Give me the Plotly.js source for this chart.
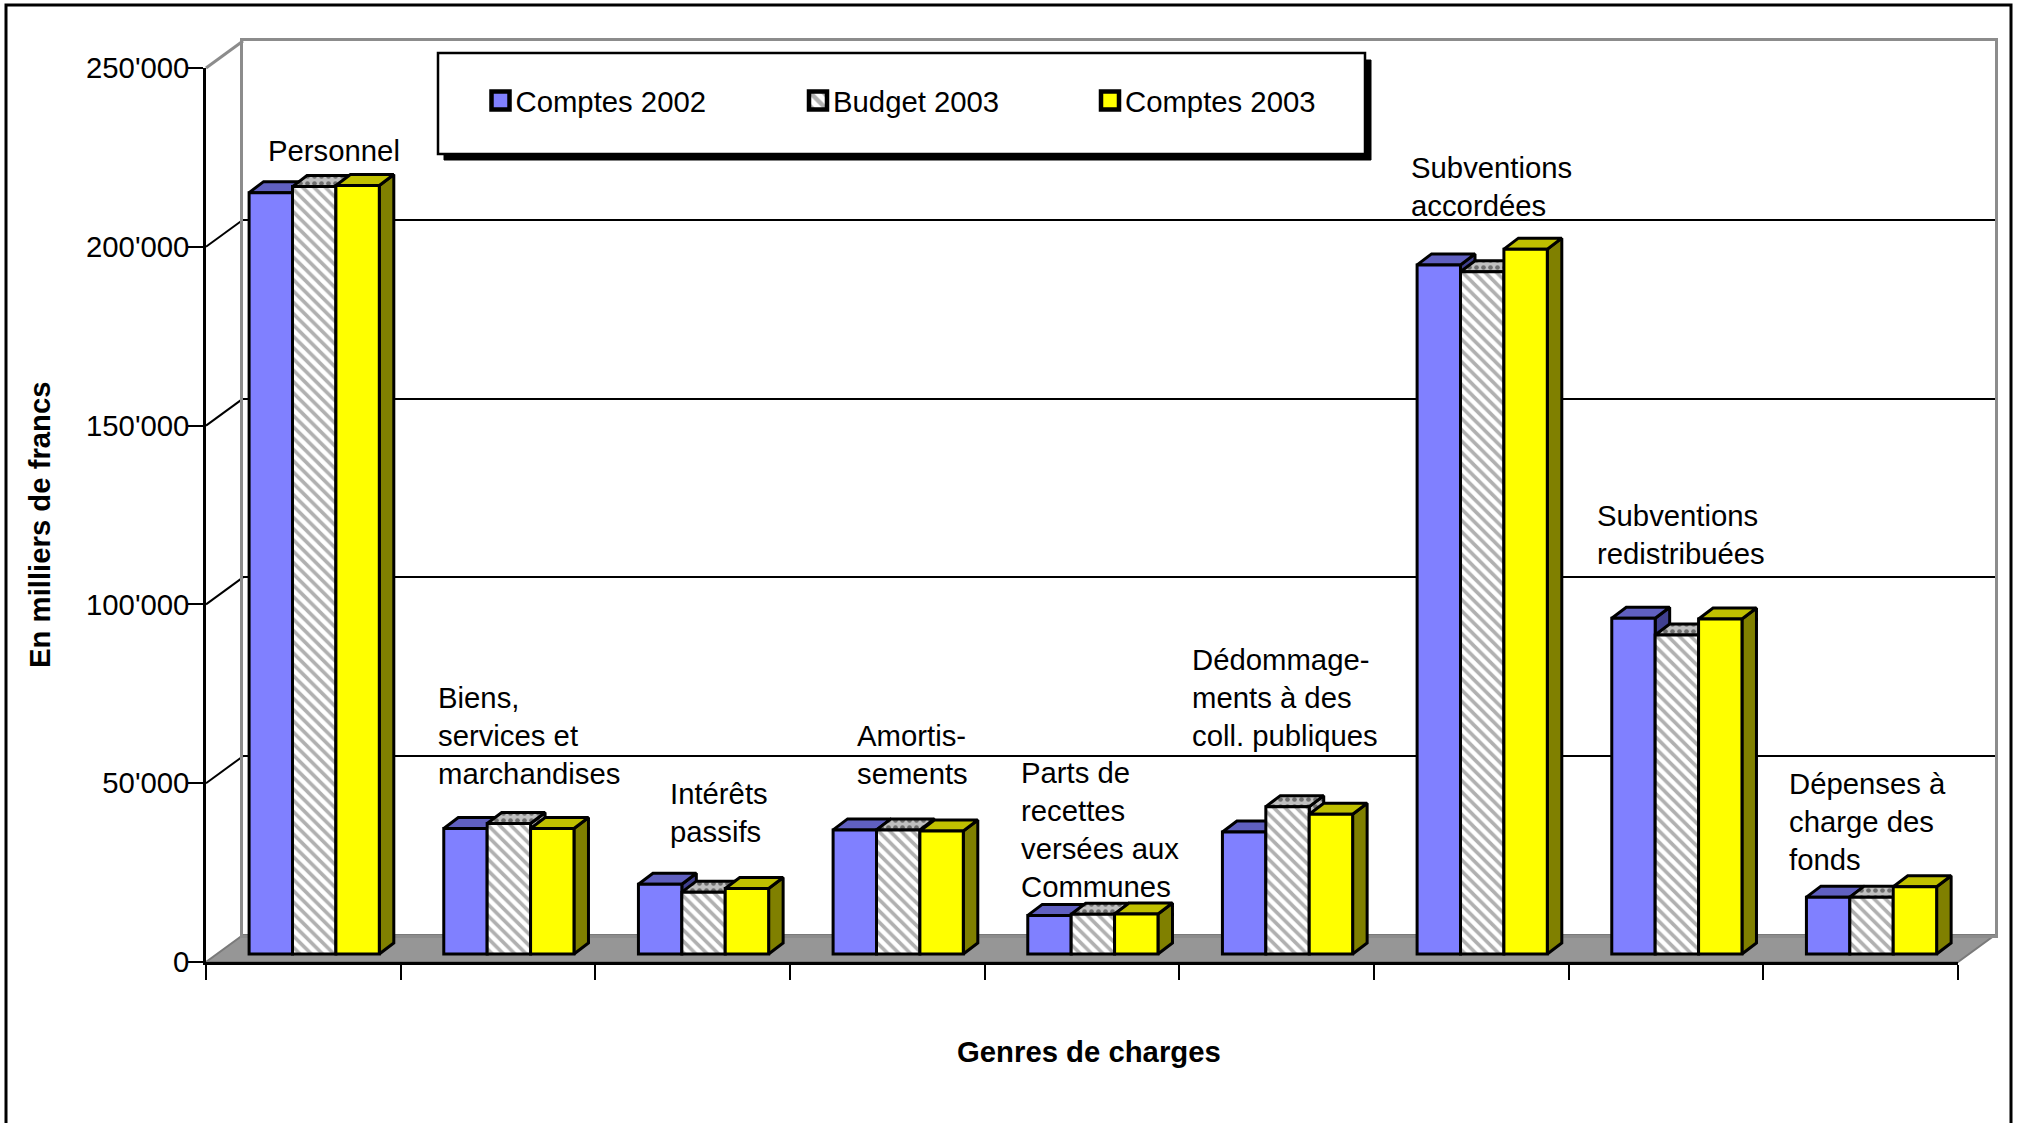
<!DOCTYPE html>
<html>
<head>
<meta charset="utf-8">
<script src="https://cdn.plot.ly/plotly-3.0.1.min.js"></script>
<style>html,body{margin:0;padding:0;background:#fff}</style>
</head>
<body>
<div id="chart" style="width:2019px;height:1123px"></div>
<script>
// Charges par genre, en milliers de francs (valeurs en francs x 1000)
const categories = [
  "Personnel",
  "Biens,<br>services et<br>marchandises",
  "Intérêts<br>passifs",
  "Amortis-<br>sements",
  "Parts de<br>recettes<br>versées aux<br>Communes",
  "Dédommage-<br>ments à des<br>coll. publiques",
  "Subventions<br>accordées",
  "Subventions<br>redistribuées",
  "Dépenses à<br>charge des<br>fonds"
];
const comptes2002 = [212900, 35100, 19500, 34700, 10800, 34100, 192700, 93900, 15900];
const budget2003  = [214600, 36500, 17300, 34700, 11100, 41200, 190800, 89200, 15900];
const comptes2003 = [214900, 35100, 18300, 34400, 11200, 39100, 197100, 93700, 18800];
const valueTicks  = [0, 50000, 100000, 150000, 200000, 250000];

// Cadre du graphique, en pixels de page
const W = 2019, H = 1123;
const front = {x0: 206, x1: 1958, y0: 962, y1: 68};
const back  = {x0: 243, x1: 1995, y0: 935, y1: 41};
const px = x => x / W;
const py = y => 1 - y / H;

const cellPx = (front.x1 - front.x0) / categories.length;
const unitPx = (front.y0 - front.y1) / 250000;
const toX = p => p / cellPx;      // largeur en pixels -> unités de l'axe x
const toY = p => p / unitPx;      // hauteur en pixels -> unités de l'axe y

// Profondeur des colonnes et position de leur base sur le sol
const barW = toX(43.4), groupStart = toX(43.1);
const depthX = toX(14.5), depthY = toY(11);
const barBase = toY(8);

const INK = "#000", LW = 3, FS = 29.3;
const FONT = "Liberation Sans, Arial, sans-serif";

const series = [
  {name: "Comptes 2002", values: comptes2002, face: "#8080FF", top: "#6060C0", side: "#404090", legend: "legend"},
  {name: "Budget 2003",  values: budget2003,  face: "#FFFFFF", top: "#C0C0C0", side: "#808080", legend: "legend2",
   pattern: {shape: "\\", fgcolor: "#B0B0B0", bgcolor: "#FFFFFF", size: 8, solidity: 0.45},
   facePattern: {shape: ".", fgcolor: "#6E6E6E", bgcolor: "#C0C0C0", size: 7, solidity: 0.35}},
  {name: "Comptes 2003", values: comptes2003, face: "#FFFF00", top: "#C0C000", side: "#808000", legend: "legend3"}
];

// Sous-graphique du mur du fond : ses axes portent le quadrillage
const traces = [{
  x: [0, 1], y: [0, 0], xaxis: "x", yaxis: "y", mode: "none", hoverinfo: "skip", showlegend: false
}];

// Faces latérales et supérieures, de gauche à droite pour le recouvrement
categories.forEach((c, i) => {
  series.forEach((s, k) => {
    const left = i + groupStart + k * barW, right = left + barW, v = s.values[i] + barBase;
    const poly = (xs, ys, color) => {
      const t = {
        x: xs, y: ys, xaxis: "x2", yaxis: "y2", mode: "lines", fill: "toself", fillcolor: color,
        line: {color: INK, width: LW}, hoverinfo: "skip", showlegend: false
      };
      if (s.facePattern) t.fillpattern = s.facePattern;
      traces.push(t);
    };
    poly([right, right + depthX, right + depthX, right, right],
         [barBase, barBase + depthY, v + depthY, v, barBase], s.side);
    poly([left, left + depthX, right + depthX, right, left],
         [v, v + depthY, v + depthY, v, v], s.top);
  });
});

// Faces avant des colonnes
series.forEach((s, k) => {
  traces.push({
    type: "bar", name: s.name, legend: s.legend,
    x: categories.map((c, i) => i + groupStart + (k + 0.5) * barW),
    y: s.values, base: barBase, width: barW,
    xaxis: "x3", yaxis: "y3",
    marker: {
      color: s.face,
      line: {color: INK, width: LW},
      pattern: s.pattern || {shape: ""}
    },
    customdata: categories.map(c => c.replace(/<br>/g, " ")),
    hovertemplate: "%{customdata}<br>" + s.name + " : %{y:,d}<extra></extra>"
  });
});

// Libellés des genres de charges : bord gauche et centre vertical du bloc
const labelSpots = [
  [266, 151], [436, 736], [668, 812], [855, 754], [1019, 829],
  [1190, 697], [1409, 187], [1595, 534], [1787, 821]
];
const annotations = categories.map((c, i) => ({
  text: c, xref: "paper", yref: "paper", x: px(labelSpots[i][0]), y: py(labelSpots[i][1]),
  xanchor: "left", yanchor: "middle", align: "left", showarrow: false,
  font: {family: FONT, size: FS, color: INK}
}));
annotations.push({
  text: "<b>Genres de charges</b>", xref: "paper", yref: "paper", x: px(1089), y: py(1051),
  xanchor: "center", yanchor: "middle", showarrow: false, font: {family: FONT, size: FS, color: INK}
});
annotations.push({
  text: "<b>En milliers de francs</b>", xref: "paper", yref: "paper", x: px(39), y: py(525),
  xanchor: "center", yanchor: "middle", textangle: -90, showarrow: false, font: {family: FONT, size: FS, color: INK}
});

const legendAt = x => ({
  x: px(x), y: py(101), xanchor: "left", yanchor: "middle", orientation: "h",
  bgcolor: "rgba(0,0,0,0)", borderwidth: 0, itemclick: false, itemdoubleclick: false,
  font: {family: FONT, size: FS, color: INK}, itemwidth: 30
});

const rect = (x0, y0, x1, y1, fill, line, width) => ({
  type: "rect", xref: "paper", yref: "paper", layer: "above",
  x0: px(x0), x1: px(x1), y0: py(y0), y1: py(y1),
  fillcolor: fill, line: {color: line, width: width}
});

// Sol gris et arêtes du mur gauche, entre le plan avant et le fond
const floor = {
  type: "path", xref: "paper", yref: "paper", layer: "below",
  path: `M${px(front.x0)},${py(front.y0)} L${px(front.x1)},${py(front.y0)} L${px(back.x1)},${py(back.y0)} L${px(back.x0)},${py(back.y0)} Z`,
  fillcolor: "#969696", line: {color: "#7A7A7A", width: 2}
};
const edges = valueTicks.slice(1).map(v => ({
  type: "line", xref: "paper", yref: "paper", layer: "below",
  x0: px(front.x0), x1: px(back.x0),
  y0: py(front.y0 - v * unitPx), y1: py(back.y0 - v * unitPx),
  line: {color: v === 250000 ? "#8C8C8C" : INK, width: v === 250000 ? 3 : 2}
}));

const layout = {
  width: W, height: H, autosize: false,
  margin: {l: 0, r: 0, t: 0, b: 0},
  paper_bgcolor: "#FFFFFF", plot_bgcolor: "rgba(0,0,0,0)",
  separators: ".'", barmode: "overlay", showlegend: true,
  font: {family: FONT, size: FS, color: INK},
  legend: legendAt(475.5), legend2: legendAt(793), legend3: legendAt(1085),
  annotations,
  shapes: [
    floor, ...edges,
    rect(6, 5, 2011, 1140, "rgba(0,0,0,0)", INK, 3),
    rect(444, 60, 1371, 160, INK, INK, 1),
    rect(438, 53, 1365, 154, "#FFFFFF", INK, 2.5)
  ],
  // Mur du fond
  xaxis: {
    domain: [px(back.x0), px(back.x1)], range: [0, 1], anchor: "y",
    showgrid: false, zeroline: false, showticklabels: false, ticks: "",
    showline: true, linecolor: "#8C8C8C", linewidth: 3, mirror: true
  },
  yaxis: {
    domain: [py(back.y0), py(back.y1)], range: [0, 250000], anchor: "x",
    tickvals: valueTicks.slice(1, -1), showgrid: true, gridcolor: INK, gridwidth: 2,
    zeroline: false, showticklabels: false, ticks: "",
    showline: true, linecolor: "#8C8C8C", linewidth: 3, mirror: true
  },
  // Axes avant
  xaxis2: {
    domain: [px(front.x0), px(front.x1)], range: [0, categories.length], anchor: "y2",
    tickvals: categories.map((c, i) => i).concat(categories.length),
    showticklabels: false, ticks: "outside", ticklen: 15, tickwidth: 2, tickcolor: INK,
    showgrid: false, zeroline: false, showline: true, linecolor: INK, linewidth: 2.5
  },
  yaxis2: {
    domain: [py(front.y0), py(front.y1)], range: [0, 250000], anchor: "x2",
    tickvals: valueTicks, tickformat: ",d", ticks: "outside", ticklen: 15, tickwidth: 2, tickcolor: INK,
    ticklabelstandoff: -7, tickfont: {family: FONT, size: FS, color: INK},
    showgrid: false, zeroline: false, showline: true, linecolor: INK, linewidth: 2.5
  },
  // Calque des faces avant, par-dessus les faces latérales
  xaxis3: {overlaying: "x2", range: [0, categories.length], anchor: "y3", visible: false},
  yaxis3: {overlaying: "y2", range: [0, 250000], anchor: "x3", visible: false}
};

const chart = document.getElementById("chart");

// Pastilles de légende agrandies
function enlargeSwatches() {
  chart.querySelectorAll(".legendpoints path").forEach(p => {
    p.setAttribute("transform", "translate(25,0) scale(1.5)");
  });
}

Plotly.newPlot(chart, traces, layout, {displayModeBar: false, responsive: false}).then(() => {
  enlargeSwatches();
  chart.on("plotly_afterplot", enlargeSwatches);
});
</script>
</body>
</html>
